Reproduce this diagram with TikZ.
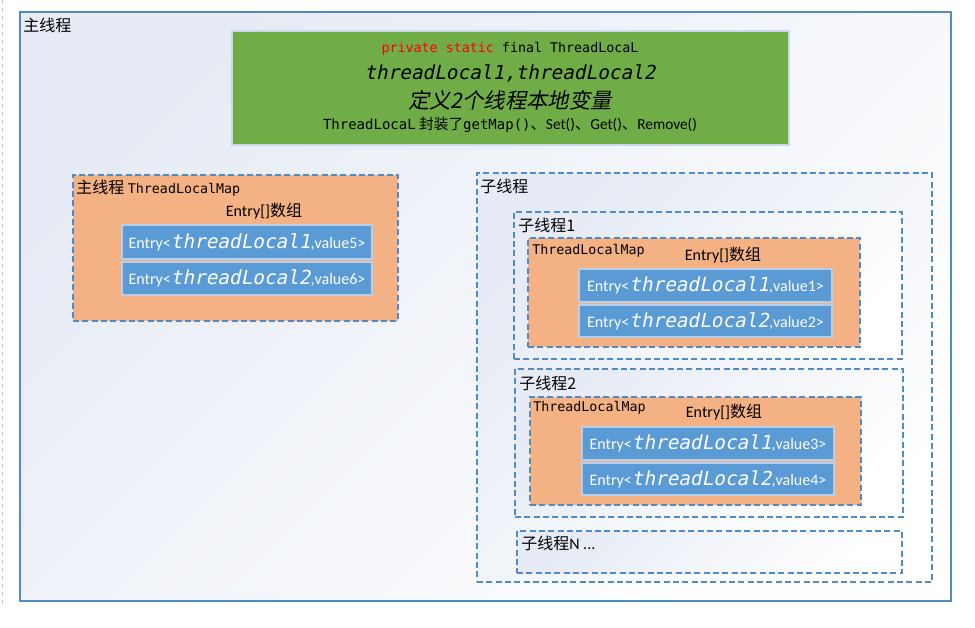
\documentclass[tikz,border=0pt]{standalone}
\usepackage{fontspec}
\setmainfont{Carlito}
\newfontfamily\cjk{Noto Sans CJK SC}
\newfontfamily\cjkit{Noto Sans CJK SC}[FakeSlant=0.2]
\newfontfamily\mono{DejaVu Sans Mono}
\newfontfamily\monoit{DejaVu Sans Mono}[FakeSlant=0.2]
\usetikzlibrary{fit,shadows}
\definecolor{bline}{HTML}{4F8AC9}
\definecolor{tint}{HTML}{E6EBF5}
\definecolor{greenf}{HTML}{70AD47}
\definecolor{greene}{HTML}{C9DAEE}
\definecolor{orangef}{HTML}{F4B183}
\definecolor{entryf}{HTML}{5B9BD5}
\definecolor{entrye}{HTML}{B7CFEA}
\definecolor{kwred}{HTML}{FF0000}
\tikzset{
  outerbox/.style={draw=bline, line width=0.8pt, top color=tint, bottom color=white, shading angle=45, inner sep=0pt},
  dbox/.style={draw=bline, line width=0.8pt, dash pattern=on 4.5pt off 2.5pt, top color=tint, bottom color=white, shading angle=45, inner sep=0pt},
  tlm/.style={draw=bline, line width=0.8pt, dash pattern=on 4.5pt off 2.5pt, fill=orangef, inner sep=0pt},
  greenbox/.style={draw=greene, line width=0.8pt, fill=greenf, inner sep=0pt, drop shadow={shadow xshift=1pt, shadow yshift=-1pt, opacity=0.25}},
  entry/.style={draw=entrye, line width=0.8pt, fill=entryf, inner sep=0pt, drop shadow={shadow xshift=1pt, shadow yshift=-1pt, opacity=0.25}},
  etext/.style={inner sep=0pt, text=white, font=\fontsize{12pt}{14pt}\selectfont},
  lbl/.style={inner sep=0pt, anchor=west, font=\fontsize{12pt}{14pt}\selectfont},
  maplbl/.style={inner sep=0pt, anchor=west, font=\mono\fontsize{10pt}{12pt}\selectfont},
  arrlbl/.style={inner sep=0pt, font=\fontsize{12pt}{14pt}\selectfont},
}
\newcommand{\tl}[1]{{\monoit\fontsize{14.5pt}{16pt}\selectfont threadLocal#1}}
\begin{document}
\begin{tikzpicture}[x=0.75pt,y=-0.75pt]
\useasboundingbox (0,0) rectangle (975,628);
\fill[white] (0,0) rectangle (975,628);
\draw[black!25, dashed, line width=0.5pt] (2,0) -- (2,606);

% outer main thread box
\node[outerbox, fit={(20,12)(951,601)}] (main) {};
\node[lbl] (mainlbl) at (23,25) {\cjk 主线程};

% green declaration box
\node[greenbox, fit={(232,31)(789,145)}] (decl) {};
\node[inner sep=0pt, font=\mono\fontsize{10pt}{12pt}\selectfont] (d1) at (510,49) {\textcolor{kwred}{private static} final ThreadLocaL};
\node[inner sep=0pt, font=\monoit\fontsize{14.5pt}{16pt}\selectfont] (d2) at (510,73) {threadLocal1,threadLocal2};
\node[inner sep=0pt, font=\cjkit\fontsize{16pt}{18pt}\selectfont] (d3) at (510,100) {定义2个线程本地变量};
\node[inner sep=0pt, font=\fontsize{11.5pt}{13pt}\selectfont] (d4) at (510,125) {{\mono\fontsize{10.5pt}{12pt}\selectfont ThreadLocaL} {\cjk\fontsize{11pt}{12pt}\selectfont 封装了}{\mono\fontsize{10.5pt}{12pt}\selectfont getMap()}{\cjk 、}Set(){\cjk 、}Get(){\cjk 、}Remove()};

% main thread ThreadLocalMap
\node[tlm, fit={(73,175)(398,321)}] (mmap) {};
\node[lbl] (mmaplbl) at (76,188) {{\cjk 主线程} {\mono\fontsize{10pt}{12pt}\selectfont ThreadLocalMap}};
\node[arrlbl] (marr) at (264,211) {Entry[]{\cjk 数组}};
\node[entry, fit={(122,225)(372,259)}] (me1) {};
\node[etext] (me1t) at (me1.center) {Entry<\tl{1},value5>};
\node[entry, fit={(122,262)(372,295)}] (me2) {};
\node[etext] (me2t) at (me2.center) {Entry<\tl{2},value6>};

% child threads
\node[dbox, fit={(477,173)(932,582)}] (child) {};
\node[lbl] (childlbl) at (480,186) {\cjk 子线程};

% child thread 1
\node[dbox, fit={(514,212)(902,359)}] (c1) {};
\node[lbl] (c1lbl) at (518,225) {\cjk 子线程1};
\node[tlm, fit={(528,238)(860,347)}] (c1map) {};
\node[maplbl] (c1maplbl) at (532,251) {ThreadLocalMap};
\node[arrlbl] (c1arr) at (723,255) {Entry[]{\cjk 数组}};
\node[entry, fit={(579,269)(832,302)}] (c1e1) {};
\node[etext] (c1e1t) at (c1e1.center) {Entry<\tl{1},value1>};
\node[entry, fit={(579,305)(832,337)}] (c1e2) {};
\node[etext] (c1e2t) at (c1e2.center) {Entry<\tl{2},value2>};

% child thread 2
\node[dbox, fit={(515,369)(903,517)}] (c2) {};
\node[lbl] (c2lbl) at (519,383) {\cjk 子线程2};
\node[tlm, fit={(530,397)(861,505)}] (c2map) {};
\node[maplbl] (c2maplbl) at (533,408) {ThreadLocalMap};
\node[arrlbl] (c2arr) at (724,412) {Entry[]{\cjk 数组}};
\node[entry, fit={(582,427)(834,460)}] (c2e1) {};
\node[etext] (c2e1t) at (c2e1.center) {Entry<\tl{1},value3>};
\node[entry, fit={(582,463)(834,495)}] (c2e2) {};
\node[etext] (c2e2t) at (c2e2.center) {Entry<\tl{2},value4>};

% child thread N
\node[dbox, fit={(517,531)(902,573)}] (cn) {};
\node[lbl] (cnlbl) at (521,543) {{\cjk 子线程}N ...};
\end{tikzpicture}
\end{document}
